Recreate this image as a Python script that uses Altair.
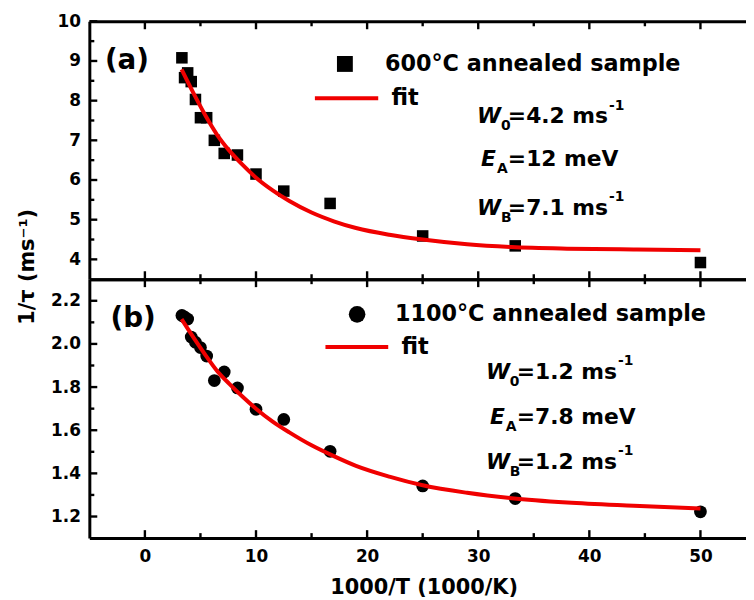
import altair as alt
import pandas as pd

# ---------------- data ----------------
x_inv_t = [3.33, 3.57, 3.85, 4.17, 4.55, 5.00, 5.56, 6.25, 7.14, 8.33, 10.0, 12.5, 16.67, 25.0, 33.33, 50.0]
rate_600 = [9.08, 8.58, 8.70, 8.48, 8.03, 7.57, 7.57, 7.00, 6.67, 6.63, 6.15, 5.72, 5.41, 4.59, 4.34, 3.92]
rate_1100 = [2.132, 2.125, 2.115, 2.032, 2.008, 1.983, 1.944, 1.830, 1.870, 1.796, 1.697, 1.650, 1.502, 1.342, 1.283, 1.222]

fit_x = [3.3, 4.5, 5.5, 6.5, 7.6, 8.8, 10, 11.5, 13, 15, 17, 19, 22, 25, 29, 33, 38, 44, 50]
fit_600 = [8.79, 8.12, 7.60, 7.14, 6.74, 6.38, 6.06, 5.74, 5.47, 5.18, 4.96, 4.79, 4.62, 4.50, 4.38, 4.31, 4.27, 4.25, 4.23]
fit_1100 = [2.115, 2.02, 1.945, 1.875, 1.815, 1.755, 1.70, 1.64, 1.59, 1.53, 1.48, 1.435, 1.385, 1.345, 1.31, 1.285, 1.265, 1.25, 1.237]

x_major = [0, 10, 20, 30, 40, 50]
x_minor = [5, 15, 25, 35, 45]
ya_major = [4, 5, 6, 7, 8, 9, 10]
ya_minor = [4.5, 5.5, 6.5, 7.5, 8.5, 9.5]
yb_major = [1.2, 1.4, 1.6, 1.8, 2.0, 2.2]
yb_minor = [1.3, 1.5, 1.7, 1.9, 2.1]

label_a = "(a)"
label_b = "(b)"
legend_a = "600°C annealed sample"
legend_b = "1100°C annealed sample"
legend_fit = "fit"
params_a = [("W", "0", "=4.2 ms", "-1"), ("E", "A", "=12 meV", ""), ("W", "B", "=7.1 ms", "-1")]
params_b = [("W", "0", "=1.2 ms", "-1"), ("E", "A", "=7.8 meV", ""), ("W", "B", "=1.2 ms", "-1")]
x_title = "1000/T (1000/K)"
y_title = "1/τ (ms⁻¹)"

FONT = "DejaVu Sans"
RED = "#f00000"
W_PLOT = 662
X_DOMAIN = [-5, 54.1]
YA_DOMAIN = [3.5, 10]
YB_DOMAIN = [1.1, 2.3]

x_scale = alt.Scale(domain=X_DOMAIN, nice=False, zero=False)
ya_scale = alt.Scale(domain=YA_DOMAIN, nice=False, zero=False)
yb_scale = alt.Scale(domain=YB_DOMAIN, nice=False, zero=False)

# tick glyphs as filled symbol paths (unit square -1..1), scaled by symbol size
V_MAJOR = "M-0.3,-1L0.3,-1L0.3,1L-0.3,1Z"   # 8 px long, ~2.4 px wide at size 64
V_MINOR = "M-0.48,-1L0.48,-1L0.48,1L-0.48,1Z"  # 5 px long, ~2.4 px wide at size 25
H_MAJOR = "M-1,-0.3L1,-0.3L1,0.3L-1,0.3Z"
H_MINOR = "M-1,-0.48L1,-0.48L1,0.48L-1,0.48Z"


def panel(yvals, fits, ysc, ydom, y_major, y_minor, shape, psize, lsize,
          label, legend, params, anchors, bottom, fmt):
    h = 261 if bottom else 260
    pts_df = pd.DataFrame({"x": x_inv_t, "y": yvals})
    fit_df = pd.DataFrame({"x": fit_x, "y": fits})
    one = pd.DataFrame({"k": [0]})

    if bottom:
        xb_axis = alt.Axis(orient="bottom", values=x_major, ticks=False, labels=True, domain=True,
                           grid=False, labelPadding=11, title=x_title, titleX=337, titleY=50,
                           titleAlign="center", titleBaseline="middle")
        y_axis = alt.Axis(orient="left", values=y_major, ticks=False, labels=True, domain=True,
                          grid=False, labelPadding=9, format=fmt, title=None)
    else:
        xb_axis = alt.Axis(orient="bottom", values=x_major, ticks=False, labels=False, domain=True,
                           grid=False, title=None)
        y_axis = alt.Axis(orient="left", values=y_major, ticks=False, labels=True, domain=True,
                          grid=False, labelPadding=9, format=fmt, title=y_title, titleX=-62,
                          titleY=247, titleAngle=270, titleAlign="center", titleBaseline="middle")
    xt_axis = alt.Axis(orient="top", values=x_major, ticks=False, labels=False, domain=True,
                       grid=False, title=None)

    pts = alt.Chart(pts_df).mark_point(shape=shape, filled=True, color="black",
                                       size=psize, opacity=1).encode(
        x=alt.X("x:Q", scale=x_scale, axis=xb_axis),
        y=alt.Y("y:Q", scale=ysc, axis=y_axis),
    )
    fit = alt.Chart(fit_df).mark_line(color=RED, strokeWidth=4, interpolate="monotone").encode(
        x=alt.X("x:Q", scale=x_scale, axis=xt_axis),
        y=alt.Y("y:Q", scale=ysc, axis=None),
    )

    # inward ticks: symbol centres half a tick length inside the frame (lengths in data units)
    ux = (X_DOMAIN[1] - X_DOMAIN[0]) / W_PLOT
    uy = (ydom[1] - ydom[0]) / h

    def tick_layer(rows, path, length):
        d = pd.DataFrame(rows)
        return alt.Chart(d).mark_point(shape=path, filled=True, color="black", opacity=1,
                                       size=length * length, strokeWidth=0).encode(
            x=alt.X("tx:Q", scale=x_scale, axis=None),
            y=alt.Y("ty:Q", scale=ysc, axis=None))

    tick_layers = []
    for vals, L, path in ((x_major, 8, V_MAJOR), (x_minor, 5, V_MINOR)):
        rows = []
        for v in vals:
            rows.append({"tx": v, "ty": ydom[0] + L / 2 * uy})
            rows.append({"tx": v, "ty": ydom[1] - L / 2 * uy})
        tick_layers.append(tick_layer(rows, path, L))
    for vals, L, path in ((y_major, 8, H_MAJOR), (y_minor, 5, H_MINOR)):
        rows = [{"tx": X_DOMAIN[0] + L / 2 * ux, "ty": v} for v in vals]
        tick_layers.append(tick_layer(rows, path, L))

    def txt(xv, yv, t, size, dx=0, dy=0, style="normal"):
        return alt.Chart(one).mark_text(align="left", baseline="middle", font=FONT,
                                        fontWeight="bold", fontSize=size, fontStyle=style,
                                        dx=dx, dy=dy, color="black").encode(
            x=alt.XDatum(xv, scale=x_scale, axis=None),
            y=alt.YDatum(yv, scale=ysc, axis=None),
            text=alt.value(t))

    lab_x, lab_y, sym_x, sym_y, leg_x, line_x1, line_x2, line_y, fit_tx, ann_x, ann_ys = anchors
    layers = [pts, fit] + tick_layers
    layers.append(txt(lab_x, lab_y, label, 28))
    layers.append(alt.Chart(one).mark_point(shape=shape, filled=True, color="black",
                                            size=lsize, opacity=1).encode(
        x=alt.XDatum(sym_x, scale=x_scale, axis=None),
        y=alt.YDatum(sym_y, scale=ysc, axis=None)))
    layers.append(txt(leg_x, sym_y, legend, 22.5))
    layers.append(alt.Chart(one).mark_rule(color=RED, strokeWidth=4).encode(
        x=alt.XDatum(line_x1, scale=x_scale, axis=None),
        x2=alt.X2Datum(line_x2),
        y=alt.YDatum(line_y, scale=ysc, axis=None)))
    layers.append(txt(fit_tx, line_y, legend_fit, 22.5))
    for (sym, sub, main, sup), yv in zip(params, ann_ys):
        is_w = sym == "W"
        layers.append(txt(ann_x, yv, sym, 22, dx=(0 if is_w else 4), style="italic"))
        layers.append(txt(ann_x, yv, sub, 14, dx=(24 if is_w else 20), dy=10))
        layers.append(txt(ann_x, yv, main, 22, dx=31))
        if sup:
            layers.append(txt(ann_x, yv, sup, 14, dx=133, dy=-11))

    return alt.layer(*layers).resolve_axis(x="independent", y="independent").properties(
        width=W_PLOT, height=h)


top = panel(rate_600, fit_600, ya_scale, YA_DOMAIN, ya_major, ya_minor, "square", 135, 256,
            label_a, legend_a, params_a,
            (-3.6, 9.0, 18.0, 8.925, 21.6, 15.3, 21.0, 8.06, 22.2, 29.9, [7.6, 6.53, 5.3]),
            False, "d")
bottom = panel(rate_1100, fit_1100, yb_scale, YB_DOMAIN, yb_major, yb_minor, "circle", 165, 280,
               label_b, legend_b, params_b,
               (-3.1, 2.117, 19.1, 2.137, 22.5, 16.25, 21.9, 1.986, 23.1, 30.7, [1.87, 1.66, 1.453]),
               True, ".1f")

chart = alt.vconcat(top, bottom, spacing=0, bounds="flush").properties(
    padding={"left": 9, "top": 2, "right": 0, "bottom": 0}
).configure_view(stroke=None).configure_axis(
    labelFont=FONT, labelFontWeight="bold", labelFontSize=17, labelColor="black",
    titleFont=FONT, titleFontWeight="bold", titleFontSize=21, titleColor="black",
    domainColor="black", domainWidth=3,
)

chart.save("out.html", embed_options={"renderer": "svg", "actions": False})
